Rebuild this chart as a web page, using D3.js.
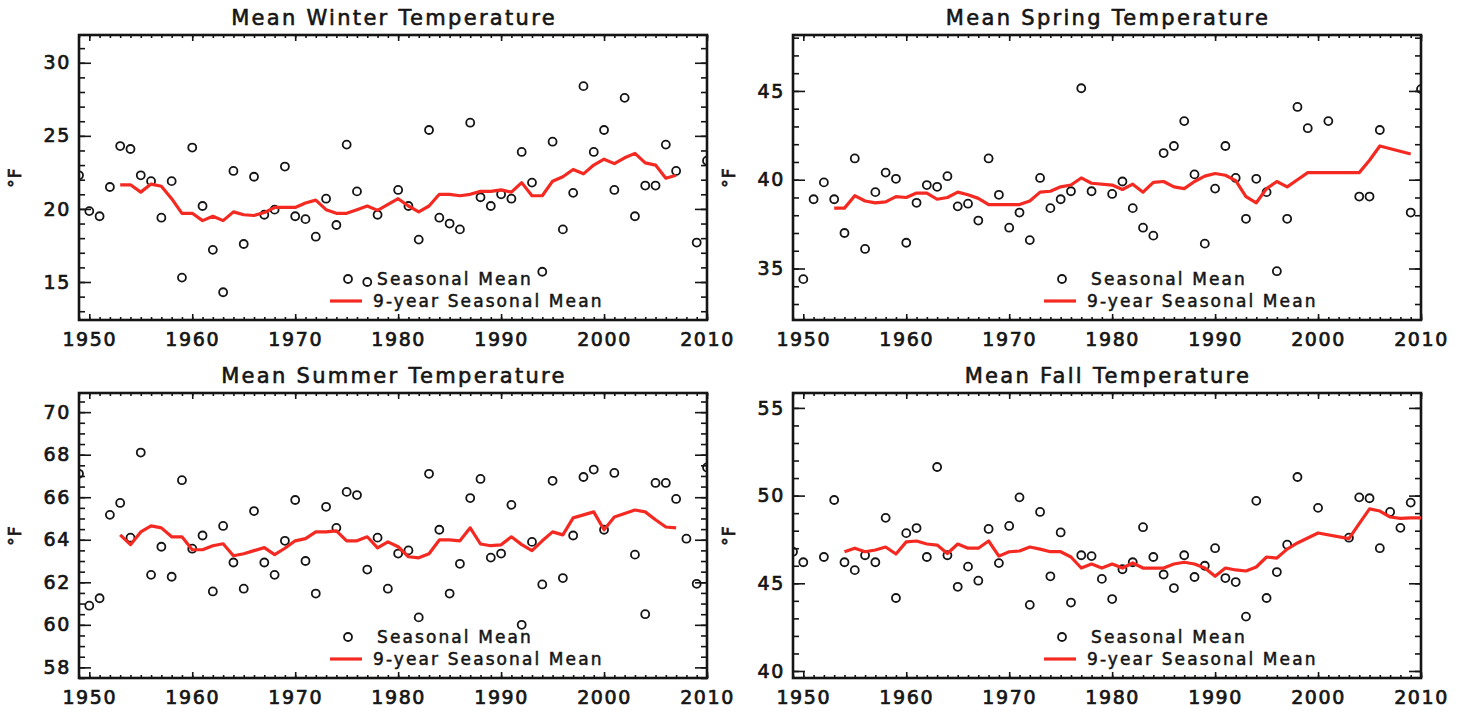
<!DOCTYPE html>
<html>
<head>
<meta charset="utf-8">
<script src="https://cdn.jsdelivr.net/npm/d3@7"></script>
<style>
  body { margin: 0; background: #fff; }
  svg { display: block; font-family: "DejaVu Sans", sans-serif; }
</style>
</head>
<body>
<svg id="chart" width="1463" height="712"></svg>
<script>
'use strict';

// yearly seasonal means (some years are missing in the record)
const winterYears = [1949,1950,1951,1952,1953,1954,1955,1956,1957,1958,1959,1960,1961,1962,1963,1964,1965,1966,1967,1968,1969,1970,1971,1972,1973,1974,1975,1976,1977,1978,1980,1981,1982,1983,1984,1985,1986,1987,1988,1989,1990,1991,1992,1993,1994,1995,1996,1997,1998,1999,2000,2001,2002,2003,2004,2005,2006,2007,2009,2010];
const winterTemps = [22.3,19.85,19.5,21.5,24.3,24.1,22.3,21.9,19.4,21.9,15.3,24.2,20.2,17.2,14.3,22.6,17.6,22.2,19.6,19.95,22.9,19.5,19.3,18.1,20.7,18.9,24.4,21.2,15.0,19.6,21.3,20.2,17.9,25.4,19.4,19.0,18.6,25.9,20.8,20.2,21.0,20.7,23.9,21.8,15.7,24.6,18.6,21.1,28.4,23.9,25.4,21.3,27.6,19.5,21.6,21.6,24.4,22.6,17.7,23.3];
const winterAvgYears = [1953,1954,1955,1956,1957,1958,1959,1960,1961,1962,1963,1964,1965,1966,1967,1968,1969,1970,1971,1972,1973,1974,1975,1976,1977,1978,1980,1981,1982,1983,1984,1985,1986,1987,1988,1989,1990,1991,1992,1993,1994,1995,1996,1997,1998,1999,2000,2001,2002,2003,2004,2005,2006,2007];
const winterAvg = [21.65,21.65,21.15,21.7,21.55,20.7,19.7,19.7,19.2,19.5,19.2,19.8,19.6,19.55,19.75,20.1,20.1,20.1,20.4,20.6,19.95,19.7,19.7,19.95,20.2,19.9,20.7,20.2,19.8,20.2,21.0,21.0,20.9,21.0,21.2,21.2,21.3,21.15,21.8,20.9,20.9,21.9,22.2,22.7,22.4,23.0,23.4,23.1,23.5,23.8,23.15,23.0,22.1,22.3];

const springYears = [1950,1951,1952,1953,1954,1955,1956,1957,1958,1959,1960,1961,1962,1963,1964,1965,1966,1967,1968,1969,1970,1971,1972,1973,1974,1975,1976,1977,1978,1980,1981,1982,1983,1984,1985,1986,1987,1988,1989,1990,1991,1992,1993,1994,1995,1996,1997,1998,1999,2001,2004,2005,2006,2009,2010];
const springTemps = [34.4,38.9,39.85,38.9,37.0,41.2,36.1,39.3,40.4,40.05,36.45,38.7,39.7,39.6,40.2,38.5,38.65,37.7,41.2,39.15,37.3,38.15,36.6,40.1,38.4,38.9,39.35,45.15,39.35,39.2,39.9,38.4,37.3,36.85,41.5,41.9,43.3,40.3,36.4,39.5,41.9,40.1,37.8,40.05,39.3,34.85,37.8,44.1,42.9,43.3,39.05,39.05,42.8,38.15,45.1];
const springAvgYears = [1953,1954,1955,1956,1957,1958,1959,1960,1961,1962,1963,1964,1965,1966,1967,1968,1969,1970,1971,1972,1973,1974,1975,1976,1977,1978,1980,1981,1982,1983,1984,1985,1986,1987,1988,1989,1990,1991,1992,1993,1994,1995,1996,1997,1998,1999,2001,2004,2005,2006,2009];
const springAvg = [38.4,38.4,39.1,38.8,38.7,38.75,39.05,39.0,39.25,39.25,38.9,39.0,39.3,39.15,38.95,38.6,38.6,38.6,38.6,38.8,39.3,39.35,39.6,39.7,40.1,39.8,39.7,39.45,39.75,39.3,39.85,39.9,39.6,39.5,39.9,40.2,40.35,40.25,39.95,39.05,38.7,39.5,39.9,39.6,40.0,40.4,40.4,40.4,41.1,41.9,41.45];

const summerYears = [1949,1950,1951,1952,1953,1954,1955,1956,1957,1958,1959,1960,1961,1962,1963,1964,1965,1966,1967,1968,1969,1970,1971,1972,1973,1974,1975,1976,1977,1978,1979,1980,1981,1982,1983,1984,1985,1986,1987,1988,1989,1990,1991,1992,1993,1994,1995,1996,1997,1998,1999,2000,2001,2003,2004,2005,2006,2007,2008,2009,2010];
const summerTemps = [67.1,60.9,61.25,65.17,65.73,64.1,68.1,62.35,63.67,62.26,66.8,63.58,64.2,61.57,64.65,62.93,61.7,65.35,62.93,62.35,63.95,65.87,63.0,61.47,65.55,64.56,66.25,66.1,62.6,64.1,61.7,63.35,63.5,60.35,67.1,64.47,61.47,62.87,65.96,66.86,63.16,63.35,65.64,60.0,63.9,61.9,66.77,62.2,64.2,66.95,67.3,64.47,67.14,63.3,60.5,66.67,66.67,65.92,64.05,61.93,67.4];
const summerAvgYears = [1953,1954,1955,1956,1957,1958,1959,1960,1961,1962,1963,1964,1965,1966,1967,1968,1969,1970,1971,1972,1973,1974,1975,1976,1977,1978,1979,1980,1981,1982,1983,1984,1985,1986,1987,1988,1989,1990,1991,1992,1993,1994,1995,1996,1997,1998,1999,2000,2001,2003,2004,2005,2006,2007];
const summerAvg = [64.23,63.77,64.37,64.65,64.56,64.14,64.14,63.53,63.53,63.72,63.81,63.25,63.34,63.49,63.63,63.3,63.6,63.95,64.05,64.37,64.37,64.42,63.95,63.95,64.14,63.62,63.9,63.67,63.2,63.15,63.34,63.99,63.99,63.95,64.56,63.8,63.72,63.76,64.14,63.77,63.49,63.95,64.37,64.23,65.03,65.17,65.31,64.47,65.07,65.4,65.31,64.94,64.6,64.56];

const fallYears = [1949,1950,1952,1953,1954,1955,1956,1957,1958,1959,1960,1961,1962,1963,1964,1965,1966,1967,1968,1969,1970,1971,1972,1973,1974,1975,1976,1977,1978,1979,1980,1981,1982,1983,1984,1985,1986,1987,1988,1989,1990,1991,1992,1993,1994,1995,1996,1997,1998,2000,2003,2004,2005,2006,2007,2008,2009];
const fallTemps = [46.8,46.2,46.5,49.75,46.2,45.75,46.6,46.2,48.73,44.16,47.86,48.15,46.5,51.63,46.6,44.8,45.95,45.15,48.1,46.15,48.27,49.9,43.77,49.07,45.4,47.9,43.9,46.6,46.55,45.25,44.1,45.8,46.2,48.2,46.5,45.5,44.73,46.6,45.36,46.0,47.0,45.3,45.07,43.1,49.7,44.16,45.64,47.2,51.06,49.3,47.6,49.9,49.85,47.0,49.07,48.16,49.6];
const fallAvgYears = [1954,1955,1956,1957,1958,1959,1960,1961,1962,1963,1964,1965,1966,1967,1968,1969,1970,1971,1972,1973,1974,1975,1976,1977,1978,1979,1980,1981,1982,1983,1984,1985,1986,1987,1988,1989,1990,1991,1992,1993,1994,1995,1996,1997,1998,2000,2003,2004,2005,2006,2007,2008,2009,2010];
const fallAvg = [46.8,47.0,46.8,46.9,47.07,46.67,47.36,47.41,47.24,47.18,46.7,47.24,47.0,47.0,47.41,46.55,46.8,46.84,47.07,46.95,46.8,46.8,46.5,45.87,46.1,45.87,46.1,45.87,46.16,45.87,45.87,45.87,46.1,46.2,46.1,45.87,45.4,45.87,45.76,45.7,45.93,46.5,46.44,46.95,47.3,47.87,47.55,48.4,49.24,49.12,48.78,48.7,48.73,48.73];

const xTickYears = [1950, 1960, 1970, 1980, 1990, 2000, 2010];
const winterTicks = [15, 20, 25, 30];
const springTicks = [35, 40, 45];
const summerTicks = [58, 60, 62, 64, 66, 68, 70];
const fallTicks = [40, 45, 50, 55];
const legendLabels = ['Seasonal Mean', '9-year Seasonal Mean'];

const settings = {
  width: 628,
  height: 285,
  red: '#f42a22',
  ink: '#151515',
  xDomain: [1949, 2010]
};

const panels = [
  { title: 'Mean Winter Temperature', years: winterYears, temps: winterTemps, avgYears: winterAvgYears, avg: winterAvg,
    yDomain: [12.4, 31.9], ticks: winterTicks, minor: 1, left: 79, top: 35 },
  { title: 'Mean Spring Temperature', years: springYears, temps: springTemps, avgYears: springAvgYears, avg: springAvg,
    yDomain: [32.1, 48.15], ticks: springTicks, minor: 1, left: 793, top: 35 },
  { title: 'Mean Summer Temperature', years: summerYears, temps: summerTemps, avgYears: summerAvgYears, avg: summerAvg,
    yDomain: [57.5, 70.9], ticks: summerTicks, minor: 0.5, left: 79, top: 393 },
  { title: 'Mean Fall Temperature', years: fallYears, temps: fallTemps, avgYears: fallAvgYears, avg: fallAvg,
    yDomain: [39.6, 55.85], ticks: fallTicks, minor: 1, left: 793, top: 393 }
];

const svg = d3.select('#chart');
svg.append('rect').attr('width', 1463).attr('height', 712).attr('fill', '#fff');

panels.forEach((p, idx) => drawPanel(p, idx));

function drawPanel(p, idx) {
  const w = settings.width, h = settings.height;
  const x = d3.scaleLinear().domain(settings.xDomain).range([0, w]);
  const y = d3.scaleLinear().domain(p.yDomain).range([h, 0]);

  const g = svg.append('g').attr('transform', `translate(${p.left},${p.top})`);

  // IDL clips the data to the plot box
  const clipId = 'clip' + idx;
  g.append('clipPath').attr('id', clipId)
    .append('rect').attr('width', w).attr('height', h);

  g.append('text')
    .attr('x', w / 2 + 1).attr('y', -10)
    .attr('text-anchor', 'middle')
    .attr('font-size', 21).attr('letter-spacing', 2.3)
    .attr('fill', settings.ink)
    .attr('stroke', settings.ink).attr('stroke-width', 0.6)
    .text(p.title);

  // minor ticks first, majors on top
  const minorX = d3.range(settings.xDomain[0], settings.xDomain[1] + 1, 1);
  const minorY = d3.range(Math.ceil(p.yDomain[0] / p.minor) * p.minor, p.yDomain[1], p.minor);

  const styleAxis = sel => {
    sel.select('.domain').remove();
    sel.selectAll('line').attr('stroke', settings.ink).attr('stroke-width', 1.6);
    sel.selectAll('text').attr('fill', settings.ink).attr('font-size', 19)
      .attr('letter-spacing', 1.6)
      .attr('stroke', settings.ink).attr('stroke-width', 0.7)
      .attr('font-family', '"DejaVu Sans", sans-serif');
  };

  g.append('g').attr('transform', `translate(0,${h})`)
    .call(d3.axisBottom(x).tickValues(minorX).tickSize(-3).tickFormat('')).call(styleAxis);
  g.append('g')
    .call(d3.axisTop(x).tickValues(minorX).tickSize(-3).tickFormat('')).call(styleAxis);
  g.append('g')
    .call(d3.axisLeft(y).tickValues(minorY).tickSize(-6).tickFormat('')).call(styleAxis);
  g.append('g').attr('transform', `translate(${w},0)`)
    .call(d3.axisRight(y).tickValues(minorY).tickSize(-6).tickFormat('')).call(styleAxis);

  g.append('g').attr('transform', `translate(0,${h})`)
    .call(d3.axisBottom(x).tickValues(xTickYears).tickSize(-6).tickPadding(13).tickFormat(d3.format('d')))
    .call(styleAxis);
  g.append('g')
    .call(d3.axisTop(x).tickValues(xTickYears).tickSize(-6).tickFormat(''))
    .call(styleAxis);
  g.append('g')
    .call(d3.axisLeft(y).tickValues(p.ticks).tickSize(-12).tickPadding(8).tickFormat(d3.format('d')))
    .call(styleAxis);
  g.append('g').attr('transform', `translate(${w},0)`)
    .call(d3.axisRight(y).tickValues(p.ticks).tickSize(-12).tickFormat(''))
    .call(styleAxis);

  // plot frame
  g.append('rect')
    .attr('width', w).attr('height', h)
    .attr('fill', 'none').attr('stroke', settings.ink).attr('stroke-width', 2.6);

  g.append('text')
    .attr('transform', `translate(-58,${h / 2}) rotate(-90)`)
    .attr('text-anchor', 'middle')
    .attr('font-size', 17).attr('letter-spacing', 1)
    .attr('fill', settings.ink)
    .attr('stroke', settings.ink).attr('stroke-width', 0.7)
    .text('°F');

  const data = g.append('g').attr('clip-path', `url(#${clipId})`);

  const pts = p.years.map((yr, i) => ({ year: yr, value: p.temps[i] }));
  data.selectAll('circle.pt')
    .data(pts)
    .enter()
    .append('circle')
    .attr('class', 'pt')
    .attr('cx', d => x(d.year))
    .attr('cy', d => y(d.value))
    .attr('r', 4)
    .attr('fill', 'none')
    .attr('stroke', settings.ink)
    .attr('stroke-width', 1.8);

  const avg = p.avgYears.map((yr, i) => ({ year: yr, value: p.avg[i] }));
  data.append('path')
    .datum(avg)
    .attr('fill', 'none')
    .attr('stroke', settings.red)
    .attr('stroke-width', 3.2)
    .attr('stroke-linejoin', 'round')
    .attr('d', d3.line().x(d => x(d.year)).y(d => y(d.value)));

  // legend
  const lg = g.append('g').attr('transform', `translate(${269},${244})`);
  lg.append('circle')
    .attr('r', 4).attr('fill', 'none')
    .attr('stroke', settings.ink).attr('stroke-width', 1.8);
  lg.append('line')
    .attr('x1', -18).attr('x2', 14).attr('y1', 22).attr('y2', 22)
    .attr('stroke', settings.red).attr('stroke-width', 3.2);
  lg.selectAll('text.leg')
    .data(legendLabels)
    .enter()
    .append('text')
    .attr('class', 'leg')
    .attr('x', (d, i) => i === 0 ? 29 : 25)
    .attr('y', (d, i) => 6 + i * 22)
    .attr('font-size', 17).attr('letter-spacing', 2.1)
    .attr('fill', settings.ink)
    .attr('stroke', settings.ink).attr('stroke-width', 0.5)
    .text(d => d);
}
</script>
</body>
</html>
